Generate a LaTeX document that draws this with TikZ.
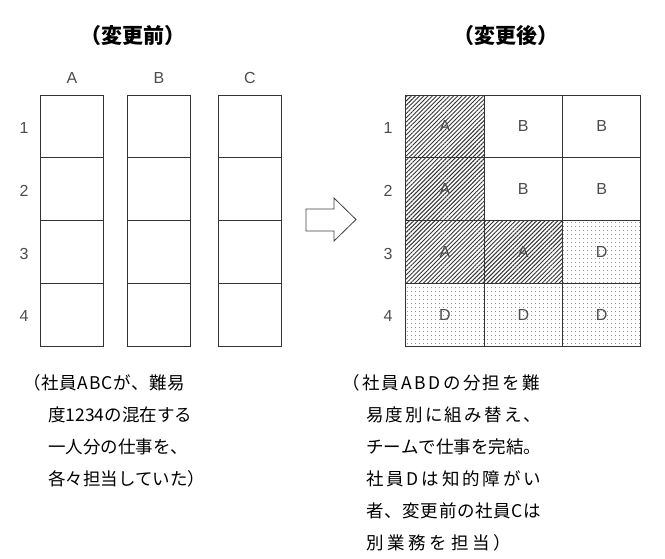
\documentclass[tikz,border=0pt]{standalone}
\usepackage{fontspec}
\setmainfont{Liberation Sans}
\newfontfamily\cjk{Noto Sans CJK JP}
\usetikzlibrary{patterns.meta}
\makeatletter
\newcommand\spreadto[2]{\makebox[#1][s]{\let\sp@sep\relax\@tfor\sp@c:=#2\do{\sp@sep\sp@c\let\sp@sep\hfill}}}
\makeatother
\tikzset{
  cellL/.style={draw=black!80, line width=0.9pt, minimum width=62.6pt, minimum height=62.75pt, inner sep=0pt, outer sep=0pt},
  cellR/.style={draw=black!80, line width=0.9pt, minimum width=78.3pt, minimum height=62.75pt, inner sep=0pt, outer sep=0pt,
     font=\fontsize{16}{16}\selectfont, text=black!70},
  hatchA/.style={pattern={Lines[angle=45,distance=3pt,line width=0.95pt]}, pattern color=black!80},
  dotD/.style={pattern={Dots[distance=4pt,radius=0.6pt]}, pattern color=black!75},
  lbl/.style={font=\fontsize{16}{16}\selectfont, text=black!70, inner sep=0pt},
  title/.style={font=\cjk\bfseries\fontsize{21}{21}\selectfont, inner sep=0pt},
  jtxt/.style={font=\cjk\fontsize{17.5}{17.5}\selectfont, anchor=base west, inner sep=0pt},
}
\begin{document}
\begin{tikzpicture}[x=1pt,y=-1pt]
\useasboundingbox (0,0) rectangle (665,558);
% titles
\node[title] (t1) at (133,36) {（変更前）};
\node[title] (t2) at (506,36) {（変更後）};
% left columns
\foreach \c/\x in {A/72,B/159,C/250}{
  \node[lbl] (h\c) at (\x,78) {\c};
  \foreach \r/\y in {1/126.4,2/189.1,3/251.9,4/314.6}{
    \node[cellL] (L\c\r) at (\x,\y) {};
  }
}
\foreach \r/\y in {1/128,2/191,3/254,4/316}{
  \node[lbl] (rl\r) at (24,\y) {\r};
  \node[lbl] (rr\r) at (388,\y) {\r};
}
% arrow
\draw[black!75, line width=0.8pt, line join=miter] (306,209) -- (334,209) -- (334,198) -- (356,219.5) -- (334,241) -- (334,231) -- (306,231) -- cycle;
% right grid
\node[cellR, hatchA] (R11) at (445,126.4) {A};
\node[cellR, hatchA] (R12) at (445,189.1) {A};
\node[cellR, hatchA] (R13) at (445,251.9) {A};
\node[cellR, dotD] (R14) at (445,314.6) {D};
\node[cellR] (R21) at (523.3,126.4) {B};
\node[cellR] (R22) at (523.3,189.1) {B};
\node[cellR, hatchA] (R23) at (523.3,251.9) {A};
\node[cellR, dotD] (R24) at (523.3,314.6) {D};
\node[cellR] (R31) at (601.6,126.4) {B};
\node[cellR] (R32) at (601.6,189.1) {B};
\node[cellR, dotD] (R33) at (601.6,251.9) {D};
\node[cellR, dotD] (R34) at (601.6,314.6) {D};
% bottom texts
\node[jtxt] (a1) at (23,389) {\spreadto{162pt}{（社員ABCが、難易}};
\node[jtxt] (a2) at (48,421) {\spreadto{140pt}{度1234の混在する}};
\node[jtxt] (a3) at (48,453) {\spreadto{140pt}{一人分の仕事を、}};
\node[jtxt] (a4) at (48,485) {各々担当していた）};
\node[jtxt] (b1) at (342,389) {\spreadto{198pt}{（社員ABDの分担を難}};
\node[jtxt] (b2) at (366,421) {\spreadto{175pt}{易度別に組み替え、}};
\node[jtxt] (b3) at (366,453) {\spreadto{175pt}{チームで仕事を完結。}};
\node[jtxt] (b4) at (366,485) {\spreadto{175pt}{社員Dは知的障がい}};
\node[jtxt] (b5) at (366,517) {\spreadto{175pt}{者、変更前の社員Cは}};
\node[jtxt] (b6) at (366,549) {\spreadto{145pt}{別業務を担当）}};
\end{tikzpicture}
\end{document}
